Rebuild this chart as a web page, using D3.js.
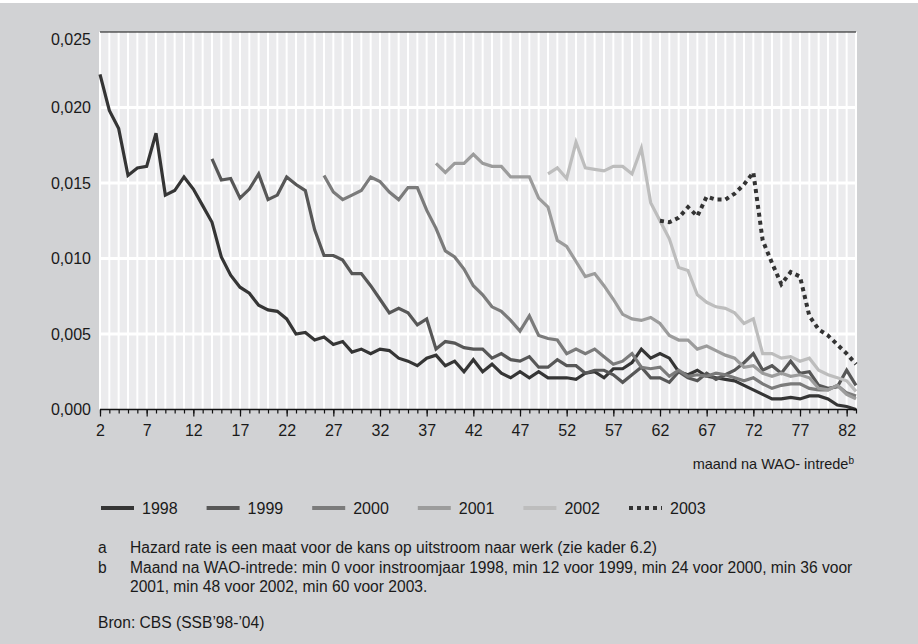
<!DOCTYPE html>
<html>
<head>
<meta charset="utf-8">
<script src="https://cdn.jsdelivr.net/npm/d3@7"></script>
<style>
  html, body { margin: 0; padding: 0; background: #ffffff; }
  svg { display: block; }
  text { font-family: "Liberation Sans", Arial, sans-serif; fill: #1a1a1a; }
</style>
</head>
<body>
<div id="chart"></div>
<script>
// Hazard rate per maand na WAO-intrede, per instroomjaar
const years = ["1998", "1999", "2000", "2001", "2002", "2003"];
const startMonths = [2, 14, 26, 38, 50, 62];

const rate1998 = [
  0.0222, 0.0198, 0.0186, 0.0155, 0.0160, 0.0161, 0.0183, 0.0142, 0.0145, 0.0154,
  0.0146, 0.0135, 0.0124, 0.0101, 0.0089, 0.0081, 0.0077, 0.0069, 0.0066, 0.0065,
  0.0060, 0.0050, 0.0051, 0.0046, 0.0048, 0.0043, 0.0045, 0.0038, 0.0040, 0.0037,
  0.0040, 0.0039, 0.0034, 0.0032, 0.0029, 0.0034, 0.0036, 0.0029, 0.0032, 0.0025,
  0.0033, 0.0025, 0.0030, 0.0024, 0.0021, 0.0025, 0.0021, 0.0025, 0.0021, 0.0021,
  0.0021, 0.0020, 0.0024, 0.0025, 0.0021, 0.0027, 0.0027, 0.0031, 0.0040, 0.0034,
  0.0037, 0.0034, 0.0025, 0.0023, 0.0026, 0.0022, 0.0021, 0.0020, 0.0019, 0.0016,
  0.0013, 0.0010, 0.0007, 0.0007, 0.0008, 0.0007, 0.0009, 0.0009, 0.0007, 0.0003,
  0.0002, 0.0000
];
const rate1999 = [
  0.0166, 0.0152, 0.0153, 0.0140, 0.0146, 0.0156, 0.0139, 0.0142, 0.0154, 0.0149,
  0.0145, 0.0119, 0.0102, 0.0102, 0.0099, 0.0090, 0.0090, 0.0082, 0.0073, 0.0064,
  0.0067, 0.0064, 0.0056, 0.0060, 0.0040, 0.0045, 0.0044, 0.0041, 0.0040, 0.0040,
  0.0034, 0.0037, 0.0033, 0.0032, 0.0035, 0.0028, 0.0028, 0.0033, 0.0029, 0.0029,
  0.0024, 0.0026, 0.0026, 0.0023, 0.0018, 0.0023, 0.0028, 0.0021, 0.0021, 0.0018,
  0.0025, 0.0021, 0.0019, 0.0024, 0.0020, 0.0023, 0.0026, 0.0031, 0.0037, 0.0026,
  0.0029, 0.0024, 0.0032, 0.0024, 0.0025, 0.0016, 0.0014, 0.0015, 0.0026, 0.0016
];
const rate2000 = [
  0.0155, 0.0144, 0.0139, 0.0142, 0.0145, 0.0154, 0.0151, 0.0144, 0.0139, 0.0147,
  0.0147, 0.0132, 0.0120, 0.0105, 0.0101, 0.0093, 0.0082, 0.0076, 0.0068, 0.0065,
  0.0059, 0.0052, 0.0062, 0.0049, 0.0047, 0.0046, 0.0037, 0.0040, 0.0037, 0.0040,
  0.0035, 0.0030, 0.0032, 0.0037, 0.0028, 0.0027, 0.0028, 0.0022, 0.0026, 0.0022,
  0.0023, 0.0022, 0.0024, 0.0023, 0.0021, 0.0019, 0.0021, 0.0017, 0.0014, 0.0016,
  0.0017, 0.0017, 0.0014, 0.0013, 0.0013, 0.0016, 0.0011, 0.0009
];
const rate2001 = [
  0.0163, 0.0157, 0.0163, 0.0163, 0.0169, 0.0163, 0.0161, 0.0161, 0.0154, 0.0154,
  0.0154, 0.0140, 0.0134, 0.0112, 0.0108, 0.0098, 0.0088, 0.0090, 0.0082, 0.0073,
  0.0063, 0.0060, 0.0059, 0.0061, 0.0057, 0.0049, 0.0046, 0.0046, 0.0040, 0.0042,
  0.0039, 0.0036, 0.0034, 0.0028, 0.0029, 0.0024, 0.0022, 0.0024, 0.0022, 0.0023,
  0.0021, 0.0014, 0.0013, 0.0016, 0.0010, 0.0007
];
const rate2002 = [
  0.0156, 0.0160, 0.0153, 0.0177, 0.0160, 0.0159, 0.0158, 0.0161, 0.0161, 0.0156,
  0.0173, 0.0137, 0.0125, 0.0113, 0.0094, 0.0092, 0.0076, 0.0071, 0.0068, 0.0067,
  0.0064, 0.0057, 0.0060, 0.0037, 0.0037, 0.0034, 0.0035, 0.0032, 0.0034, 0.0026,
  0.0023, 0.0021, 0.0019, 0.0012
];
const rate2003 = [
  0.0125, 0.0124, 0.0127, 0.0134, 0.0128, 0.0141, 0.0139, 0.0139, 0.0143, 0.0149,
  0.0157, 0.0112, 0.0097, 0.0083, 0.0091, 0.0088, 0.0062, 0.0053, 0.0049, 0.0043,
  0.0037, 0.0030
];
const rates = [rate1998, rate1999, rate2000, rate2001, rate2002, rate2003];

const xTickLabels = [2, 7, 12, 17, 22, 27, 32, 37, 42, 47, 52, 57, 62, 67, 72, 77, 82];
const yTickLabels = [0, 0.005, 0.010, 0.015, 0.020, 0.025];

const footA = "Hazard rate is een maat voor de kans op uitstroom naar werk (zie kader 6.2)";
const footB1 = "Maand na WAO-intrede: min 0 voor instroomjaar 1998, min 12 voor 1999, min 24 voor 2000, min 36 voor";
const footB2 = "2001, min 48 voor 2002, min 60 voor 2003.";
const source = "Bron: CBS (SSB\u201998-\u201904)";

// Sizes
const W = 918, H = 644;
const plot = { left: 100, right: 856, top: 32, bottom: 409.5 };

const colors = ["#353535", "#575757", "#7b7b7b", "#9c9c9c", "#bdbdbd", "#333333"];

const svg = d3.select("#chart").append("svg")
  .attr("width", W)
  .attr("height", H);

// Background
svg.append("rect").attr("x", 0).attr("y", 3).attr("width", W).attr("height", H - 3)
  .attr("fill", "#d1d2d4");

const x = d3.scaleLinear().domain([2, 83]).range([plot.left, plot.right]);
const y = d3.scaleLinear().domain([0, 0.025]).range([plot.bottom, plot.top]);

// Plot area
svg.append("rect")
  .attr("x", plot.left).attr("y", plot.top)
  .attr("width", plot.right - plot.left).attr("height", plot.bottom - plot.top)
  .attr("fill", "#ebebed");

const allMonths = d3.range(2, 84);

// Vertical white grid per month
svg.append("g").selectAll("line")
  .data(allMonths)
  .join("line")
  .attr("x1", d => x(d)).attr("x2", d => x(d))
  .attr("y1", plot.top).attr("y2", plot.bottom)
  .attr("stroke", "#ffffff")
  .attr("stroke-width", 2);

// Horizontal white grid
svg.append("g").selectAll("line")
  .data(yTickLabels.filter(d => d > 0 && d < 0.025))
  .join("line")
  .attr("x1", plot.left).attr("x2", plot.right)
  .attr("y1", d => y(d)).attr("y2", d => y(d))
  .attr("stroke", "#ffffff")
  .attr("stroke-width", 3);

// Top black line
svg.append("line")
  .attr("x1", plot.left).attr("x2", plot.right)
  .attr("y1", y(0.025)).attr("y2", y(0.025))
  .attr("stroke", "#111").attr("stroke-width", 1.2);

// Y labels
const fmt = d => d3.format(".3f")(d).replace(".", ",");
svg.append("g").selectAll("text")
  .data(yTickLabels)
  .join("text")
  .attr("x", 91)
  .attr("y", d => y(d) + (d === 0.025 ? 7 : 0))
  .attr("dy", "0.35em")
  .attr("text-anchor", "end")
  .attr("font-size", 16)
  .text(fmt);

// Lines
const line = d3.line()
  .x(d => x(d.m))
  .y(d => y(d.v));

rates.forEach((arr, i) => {
  const pts = arr.map((v, j) => ({ m: startMonths[i] + j, v: v }));
  const path = svg.append("path")
    .datum(pts)
    .attr("fill", "none")
    .attr("stroke", colors[i])
    .attr("stroke-width", 3.2)
    .attr("stroke-linejoin", "miter")
    .attr("d", line);
  if (i === 5) {
    path.attr("stroke-width", 4).attr("stroke-dasharray", "4,4");
  }
});

// X axis: minor ticks every month, longer ticks at labels
const xMinor = d3.axisBottom(x).tickValues(allMonths).tickSize(4).tickFormat("");
const gMinor = svg.append("g")
  .attr("transform", "translate(0," + plot.bottom + ")")
  .call(xMinor);
gMinor.select(".domain").remove();
gMinor.selectAll("line").attr("stroke", "#111").attr("stroke-width", 1.2);

const xMajor = d3.axisBottom(x).tickValues(xTickLabels).tickSize(7).tickPadding(8).tickFormat(d3.format("d"));
const gMajor = svg.append("g")
  .attr("transform", "translate(0," + plot.bottom + ")")
  .call(xMajor);
gMajor.select(".domain").remove();
gMajor.selectAll("line").attr("stroke", "#111").attr("stroke-width", 1.2);
gMajor.selectAll("text")
  .attr("font-size", 16)
  .attr("font-family", "Liberation Sans, Arial, sans-serif")
  .attr("fill", "#1a1a1a");

svg.append("line")
  .attr("x1", plot.left).attr("x2", plot.right + 1)
  .attr("y1", plot.bottom).attr("y2", plot.bottom)
  .attr("stroke", "#111").attr("stroke-width", 1.5);

// X axis title with superscript
const xt = svg.append("text")
  .attr("x", 854).attr("y", 469)
  .attr("text-anchor", "end")
  .attr("font-size", 14.5);
xt.append("tspan").text("maand na WAO- intrede");
xt.append("tspan").attr("font-size", 10).attr("dy", -5).text("b");

// Legend
const legend = svg.append("g");
years.forEach((yr, i) => {
  const lx = 101 + i * 105.6;
  legend.append("line")
    .attr("x1", lx).attr("x2", lx + 33)
    .attr("y1", 508).attr("y2", 508)
    .attr("stroke", colors[i])
    .attr("stroke-width", 4)
    .attr("stroke-dasharray", i === 5 ? "4,4" : null);
  legend.append("text")
    .attr("x", lx + 41).attr("y", 508)
    .attr("dy", "0.35em")
    .attr("font-size", 16)
    .text(yr);
});

// Footnotes
const fs = 15.6;
const notes = svg.append("g");
notes.append("text").attr("x", 98).attr("y", 553).attr("font-size", fs).text("a");
notes.append("text").attr("x", 130).attr("y", 553).attr("font-size", fs).text(footA);
notes.append("text").attr("x", 98).attr("y", 573).attr("font-size", fs).text("b");
notes.append("text").attr("x", 130).attr("y", 573).attr("font-size", fs).text(footB1);
notes.append("text").attr("x", 130).attr("y", 592).attr("font-size", fs).text(footB2);
notes.append("text").attr("x", 98).attr("y", 628).attr("font-size", fs).text(source);
</script>
</body>
</html>
